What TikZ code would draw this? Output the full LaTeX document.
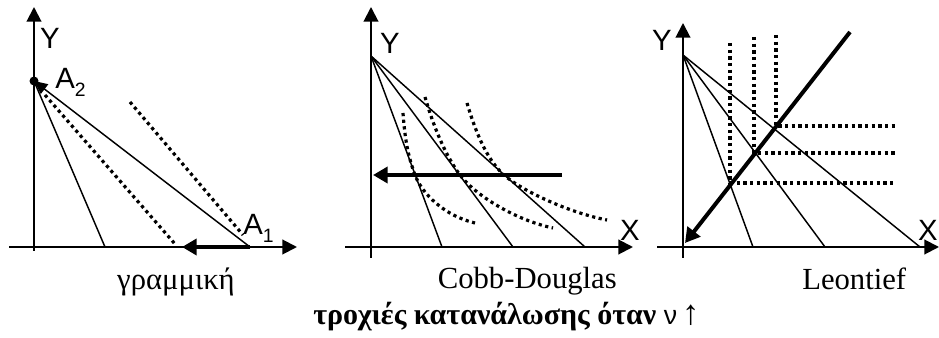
\documentclass[tikz,border=0pt]{standalone}
\usepackage{fontspec}
\setmainfont{Liberation Serif}
\newfontfamily\sanslab{Liberation Sans}
\usetikzlibrary{arrows.meta}
\tikzset{
  axisline/.style={line width=1.5pt,-{Triangle[length=11pt,width=11pt]}},
  thinline/.style={line width=1.1pt},
  thickarrow/.style={line width=3pt,-{Triangle[length=11pt,width=12pt]}},
  dotline/.style={line width=2.4pt,dash pattern=on 2.4pt off 2.6pt},
  axlabel/.style={font=\sanslab\fontsize{22}{24}\selectfont,inner sep=0pt},
  caption/.style={font=\fontsize{23}{26}\selectfont,inner sep=0pt},
}
\begin{document}
\begin{tikzpicture}[x=0.75pt,y=-0.75pt]
\useasboundingbox (0,0) rectangle (939,338);
% ---------- panel 1 : linear ----------
\coordinate (y1b) at (34,251);
\coordinate (y1t) at (34,7);
\coordinate (x1l) at (9,247);
\coordinate (x1r) at (297,247);
\coordinate (A2) at (34,81);
\coordinate (f1a) at (105,247);
\coordinate (A1) at (250,247);
\coordinate (d1s) at (45,95);
\coordinate (d1e) at (175,244);
\coordinate (d2s) at (130,102);
\coordinate (d2e) at (243,235);
\coordinate (arr1e) at (182,247);
\draw[axisline] (y1b) -- (y1t);
\draw[axisline] (x1l) -- (x1r);
\draw[thinline] (A2) -- (f1a);
\draw[thinline,-{Triangle[length=10pt,width=9pt]}] (A1) -- (A2);
\draw[dotline] (d1s) -- (d1e);
\draw[dotline] (d2s) -- (d2e);
\draw[thickarrow] (A1) -- (arr1e);
\fill (A2) circle (4.5);
\node[axlabel] (ylab1) at (50,38) {Y};
\node[axlabel,anchor=base west] (a2lab) at (55,89) {A\raisebox{-6pt}{\fontsize{14.5}{15}\selectfont 2}};
\node[axlabel,anchor=base west] (a1lab) at (243,235) {A\raisebox{-6pt}{\fontsize{14.5}{15}\selectfont 1}};
\node[caption,anchor=base] (cap1) at (176,290) {γραμμική};
% ---------- panel 2 : Cobb-Douglas ----------
\coordinate (y2b) at (371,258);
\coordinate (y2t) at (371,7);
\coordinate (x2l) at (345,247);
\coordinate (x2r) at (633,247);
\coordinate (O2) at (371,56);
\coordinate (f2a) at (442,247);
\coordinate (f2b) at (513,247);
\coordinate (f2c) at (585,247);
\coordinate (h2s) at (562,175);
\coordinate (h2e) at (373,175);
\draw[axisline] (y2b) -- (y2t);
\draw[axisline] (x2l) -- (x2r);
\draw[thinline] (O2) -- (f2a);
\draw[thinline] (O2) -- (f2b);
\draw[thinline] (O2) -- (f2c);
\draw[thickarrow] (h2s) -- (h2e);
\draw[dotline] (403,113) .. controls (405,140) and (408,156) .. (415,175)
   .. controls (422,194) and (445,216) .. (475,223);
\draw[dotline] (425,97) .. controls (433,125) and (445,155) .. (460,175)
   .. controls (475,195) and (515,220) .. (553,228);
\draw[dotline] (467,103) .. controls (475,130) and (486,159) .. (504,175)
   .. controls (522,191) and (570,213) .. (607,220);
\node[axlabel] (ylab2) at (390,43) {Y};
\node[axlabel] (xlab2) at (630,230) {X};
\node[caption,anchor=base east] (cap2) at (617,289) {Cobb-Douglas};
% ---------- panel 3 : Leontief ----------
\coordinate (y3b) at (683,258);
\coordinate (y3t) at (683,23);
\coordinate (x3l) at (657,247);
\coordinate (x3r) at (939,247);
\coordinate (O3) at (683,55);
\coordinate (f3a) at (753,247);
\coordinate (f3b) at (825,247);
\coordinate (f3c) at (920,247);
\coordinate (dgs) at (850,32);
\coordinate (dge) at (685,243);
\draw[axisline] (y3b) -- (y3t);
\draw[axisline] (x3l) -- (x3r);
\draw[thinline] (O3) -- (f3a);
\draw[thinline] (O3) -- (f3b);
\draw[thinline] (O3) -- (f3c);
\draw[dotline] (730,43) -- (730,183) -- (895,183);
\draw[dotline] (754,37) -- (754,153) -- (895,153);
\draw[dotline] (776,35) -- (776,126) -- (895,126);
\draw[thickarrow] (dgs) -- (dge);
\node[axlabel] (ylab3) at (662,40) {Y};
\node[axlabel] (xlab3) at (928,230) {X};
\node[caption,anchor=base west] (cap3) at (802,290) {Leontief};
% ---------- title ----------
\node[caption,anchor=base west,font=\bfseries\fontsize{22.5}{25}\selectfont] (title) at (313,325)
  {τροχιές κατανάλωσης όταν\ {\sanslab\mdseries\fontsize{20}{22}\selectfont ν}\,{\mdseries\fontsize{26}{28}\selectfont ↑}};
\end{tikzpicture}
\end{document}
